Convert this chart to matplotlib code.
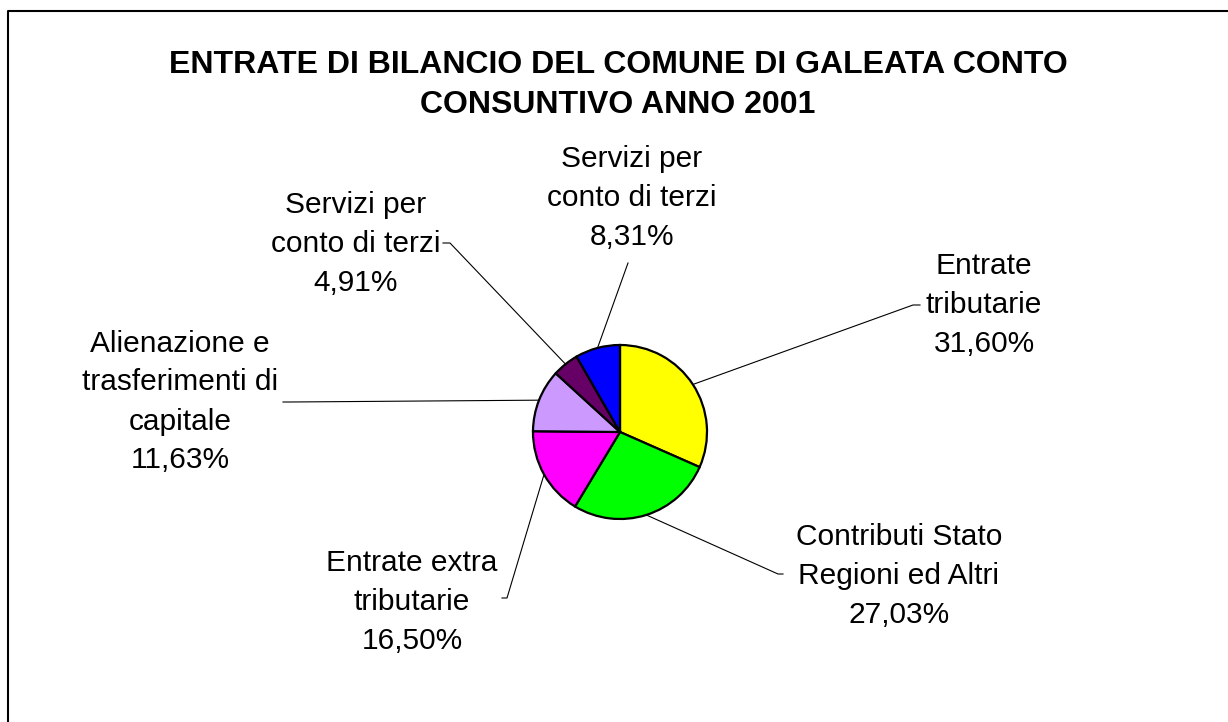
import matplotlib
matplotlib.use('Agg')
import matplotlib.pyplot as plt
import numpy as np

plt.rcParams['font.family'] = ['Liberation Sans', 'DejaVu Sans']

# dati: entrate di bilancio 2001 (in senso orario dall'alto)
categorie = ['Entrate\ntributarie', 'Contributi Stato\nRegioni ed Altri',
             'Entrate extra\ntributarie', 'Alienazione e\ntrasferimenti di\ncapitale',
             'Servizi per\nconto di terzi', 'Servizi per\nconto di terzi']
percentuali = [31.60, 27.03, 16.50, 11.63, 4.91, 8.31]
colori = ['#FFFF00', '#00FF00', '#FF00FF', '#CC99FF', '#660066', '#0000FF']
titolo = 'ENTRATE DI BILANCIO DEL COMUNE DI GALEATA CONTO\nCONSUNTIVO ANNO 2001'

W, H = 1228, 722
centro = (620, H - 432)
raggio = 87

# posizione etichette (centro del blocco di testo) e gomito della linea guida
pos_etichette = [(984, 305), (899, 576), (412, 602), (180, 402), (356, 244), (632, 198)]
gomiti = [[(913, 305), (920, 305)],
          [(778, 574), (783, 574)],
          [(507, 598), (502, 598)],
          [(290, 402), (283, 402)],
          [(450, 243), (443, 243)],
          [(628, 263)]]

fig = plt.figure(figsize=(W / 100, H / 100), dpi=100)
ax = fig.add_axes([0, 0, 1, 1])

wedges, _ = ax.pie(percentuali, colors=colori, startangle=90, counterclock=False,
                   center=centro, radius=raggio,
                   wedgeprops=dict(edgecolor='black', linewidth=1.6))

for w, lab, val, pos, gom in zip(wedges, categorie, percentuali, pos_etichette, gomiti):
    ang = np.deg2rad((w.theta1 + w.theta2) / 2)
    x0 = centro[0] + raggio * np.cos(ang)
    y0 = centro[1] + raggio * np.sin(ang)
    xs = [x0] + [p[0] for p in gom]
    ys = [y0] + [H - p[1] for p in gom]
    ax.plot(xs, ys, color='black', lw=0.8)
    testo = lab + '\n' + f'{val:.2f}%'.replace('.', ',')
    ax.text(pos[0], H - pos[1], testo, ha='center', va='center',
            multialignment='center', fontsize=21.5, linespacing=1.5)

ax.text(618, H - 85, titolo, ha='center', va='center', fontsize=23,
        fontweight='bold', linespacing=1.45)

# cornice (solo bordo sinistro e superiore visibili)
ax.plot([8, 8, W + 10], [-10, H - 11, H - 11], color='black', lw=1.5)

ax.set_xlim(0, W)
ax.set_ylim(0, H)
ax.set_aspect('auto')
ax.axis('off')

fig.savefig('out.png', dpi=100)
